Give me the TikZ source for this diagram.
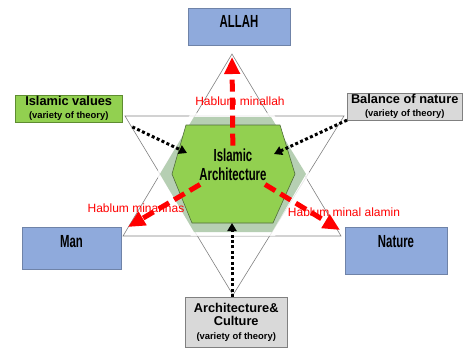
\documentclass[tikz,border=0pt]{standalone}
\usepackage{fontspec}
\setmainfont{Liberation Sans}
\newfontfamily\narrowfont{Liberation Sans}[FakeStretch=0.65]
\usetikzlibrary{arrows.meta,calc}

\definecolor{boxblue}{HTML}{8FAADC}
\definecolor{edgeblue}{HTML}{6F83A8}
\definecolor{boxgreen}{HTML}{92D050}
\definecolor{edgegreen}{HTML}{5E8C31}
\definecolor{boxgrey}{HTML}{D9D9D9}
\definecolor{edgegrey}{HTML}{808080}
\definecolor{sage}{HTML}{B6CFB3}
\definecolor{hexedge}{HTML}{4F6B3A}

\newcommand{\theorynote}{{\fontsize{9.4}{10}\selectfont (variety of theory)}}

\begin{document}
\begin{tikzpicture}[x=1pt,y=-1pt,
    title/.style={draw=edgeblue,fill=boxblue,anchor=north,inner sep=0pt,
      font=\narrowfont\bfseries\fontsize{17.5}{19}\selectfont},
    theory/.style={draw=edgegrey,fill=boxgrey,align=center,inner ysep=1pt,
      anchor=north west,font=\bfseries\fontsize{12.8}{13.5}\selectfont},
    hablum/.style={red,line width=5pt,dash pattern=on 12pt off 6pt,
      -{Triangle[length=17pt,width=15pt]}},
    link/.style={black,line width=3pt,dash pattern=on 3pt off 2.4pt,
      -{Triangle[length=8pt,width=9pt]}},
    hablabel/.style={red,font=\fontsize{12}{13}\selectfont},
    star/.style={draw=gray,line width=0.6pt}]

  \useasboundingbox (0,0) rectangle (463,349);

  % star of two triangles
  \coordinate (up1) at (232,54);
  \coordinate (up2) at (123,236);
  \coordinate (up3) at (341,236);
  \coordinate (dn1) at (125,116);
  \coordinate (dn2) at (344,116);
  \coordinate (dn3) at (233,295);
  \draw[star] (up1) -- (up2) -- (up3) -- cycle;
  \draw[star] (dn1) -- (dn2) -- (dn3) -- cycle;

  % hexagons
  \fill[white,opacity=0.8] (191,113) -- (273,113) -- (310,174) -- (275,236)
    -- (191,236) -- (156,174) -- cycle;
  \fill[sage] (194,117) -- (271,117) -- (306,174) -- (272,232)
    -- (194,232) -- (160,174) -- cycle;
  \draw[hexedge,fill=boxgreen,line width=0.6pt] (186,125) -- (280,125)
    -- (295,174) -- (273,223) -- (192,223) -- (172,174) -- cycle;
  \node[font=\narrowfont\bfseries\fontsize{17.5}{19}\selectfont,align=center]
    (core) at (233,165) {Islamic\\Architecture};

  % boxes
  \node[title,minimum width=102pt,text height=19pt,text depth=18pt]
    (allah) at (239,8) {ALLAH};
  \node[title,minimum width=99pt,text height=20pt,text depth=22pt]
    (man) at (71.5,227) {Man};
  \node[title,minimum width=102pt,text height=20pt,text depth=27pt]
    (nature) at (396,227) {Nature};
  \node[theory,draw=edgegreen,fill=boxgreen,minimum width=107pt,
    minimum height=24pt] (ivals) at (15,95) {Islamic values\\\theorynote};
  \node[theory,minimum width=115pt,minimum height=26pt]
    (bal) at (347,93) {Balance of nature\\\theorynote};
  \node[theory,minimum width=102pt,minimum height=50pt]
    (arch) at (185,297) {Architecture\&\\Culture\\\theorynote};

  % labels
  \node[hablabel] (lup) at (240,101) {Hablum minallah};
  \node[hablabel] (lleft) at (136,208) {Hablum minannas};
  \node[hablabel] (lright) at (344,212) {Hablum minal alamin};

  % dotted links
  \coordinate (inL) at (187,153);
  \coordinate (inR) at (274,154);
  \coordinate (inB) at (232,223);
  \draw[link,shorten <=11pt] (ivals.south east) -- (inL);
  \draw[link] (bal.south west) -- (inR);
  \draw[link] (inB |- arch.north) -- (inB);

  % red arrows
  \coordinate (tipU) at (232,57);
  \coordinate (tipL) at (128,227);
  \coordinate (tipR) at (340,230);
  \draw[hablum] (core) -- (tipU);
  \draw[hablum] (core) -- (tipL);
  \draw[hablum] (core) -- (tipR);
\end{tikzpicture}
\end{document}
